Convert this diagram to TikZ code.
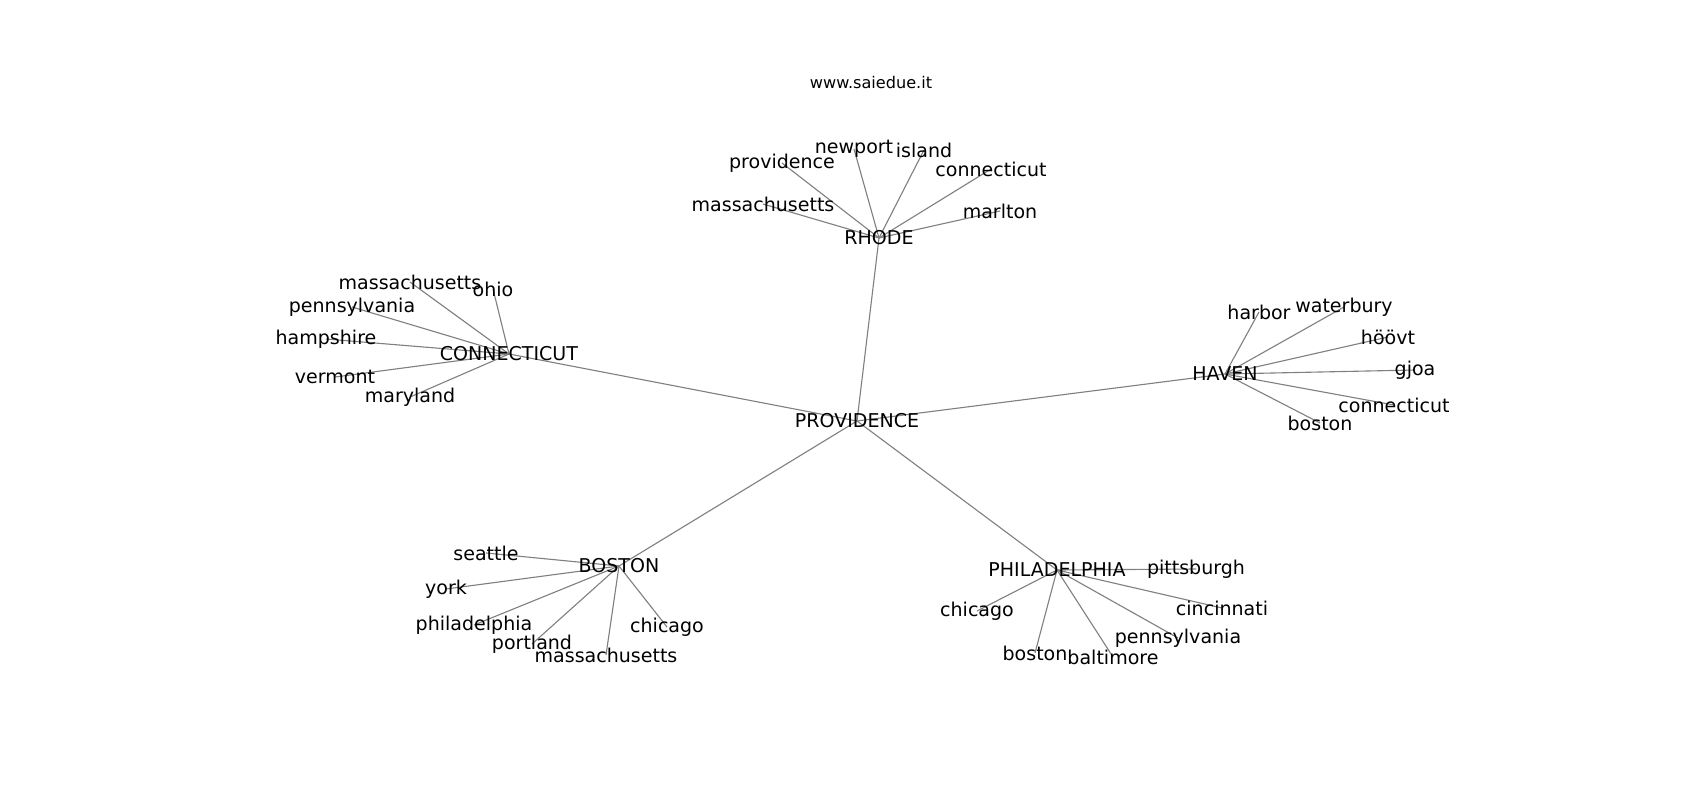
\documentclass[tikz,border=0pt]{standalone}
\usepackage{fontspec}
\setmainfont{DejaVu Sans}
\usetikzlibrary{backgrounds}
\tikzset{
  lbl/.style={inner sep=0pt, font=\fontsize{13.7}{15}\selectfont, text=black},
  ttl/.style={inner sep=0pt, font=\fontsize{11.6}{13}\selectfont, text=black},
  edge/.style={draw=black!50, line width=0.8pt}
}
\begin{document}
\begin{tikzpicture}[x=0.72pt, y=-0.72pt]
\useasboundingbox (0,0) rectangle (1700,800);
\node[ttl] (title) at (871,82) {www.saiedue.it};
% hubs
\node[lbl] (prov) at (857,421) {PROVIDENCE};
\node[lbl] (rhode) at (879,238) {RHODE};
\node[lbl] (conn) at (509,354) {CONNECTICUT};
\node[lbl] (haven) at (1225,374) {HAVEN};
\node[lbl] (bost) at (619,566) {BOSTON};
\node[lbl] (phil) at (1057,570) {PHILADELPHIA};
% rhode leaves
\node[lbl] (r1) at (854,149) {newport};
\node[lbl] (r2) at (924,150) {island};
\node[lbl] (r3) at (782,163) {providence};
\node[lbl] (r4) at (991,169) {connecticut};
\node[lbl] (r5) at (763,204) {massachusetts};
\node[lbl] (r6) at (1000,211) {marlton};
% connecticut leaves
\node[lbl] (c1) at (410,282) {massachusetts};
\node[lbl] (c2) at (493,289) {ohio};
\node[lbl] (c3) at (352,307) {pennsylvania};
\node[lbl] (c4) at (326,339) {hampshire};
\node[lbl] (c5) at (335,377) {vermont};
\node[lbl] (c6) at (410,397) {maryland};
% haven leaves
\node[lbl] (h1) at (1259,312) {harbor};
\node[lbl] (h2) at (1344,307) {waterbury};
\node[lbl] (h3) at (1388,337) {höövt};
\node[lbl] (h4) at (1415,370) {gjoa};
\node[lbl] (h5) at (1394,405) {connecticut};
\node[lbl] (h6) at (1320,423) {boston};
% boston leaves
\node[lbl] (b1) at (486,553) {seattle};
\node[lbl] (b2) at (446,589) {york};
\node[lbl] (b3) at (474,625) {philadelphia};
\node[lbl] (b4) at (667,627) {chicago};
\node[lbl] (b5) at (532,644) {portland};
\node[lbl] (b6) at (606,655) {massachusetts};
% philadelphia leaves
\node[lbl] (p1) at (1196,569) {pittsburgh};
\node[lbl] (p2) at (977,611) {chicago};
\node[lbl] (p3) at (1222,608) {cincinnati};
\node[lbl] (p4) at (1178,638) {pennsylvania};
\node[lbl] (p5) at (1035,653) {boston};
\node[lbl] (p6) at (1113,657) {baltimore};
\begin{pgfonlayer}{background}
\fill[white] (0,0) rectangle (1700,800);
\foreach \h in {rhode,conn,haven,bost,phil}
  \draw[edge] (prov.center) -- (\h.center);
\foreach \l in {r1,r2,r3,r4,r5,r6}
  \draw[edge] (rhode.center) -- (\l.center);
\foreach \l in {c1,c2,c3,c4,c5,c6}
  \draw[edge] (conn.center) -- (\l.center);
\foreach \l in {h1,h2,h3,h4,h5,h6}
  \draw[edge] (haven.center) -- (\l.center);
\foreach \l in {b1,b2,b3,b4,b5,b6}
  \draw[edge] (bost.center) -- (\l.center);
\foreach \l in {p1,p2,p3,p4,p5,p6}
  \draw[edge] (phil.center) -- (\l.center);
\end{pgfonlayer}
\end{tikzpicture}
\end{document}
